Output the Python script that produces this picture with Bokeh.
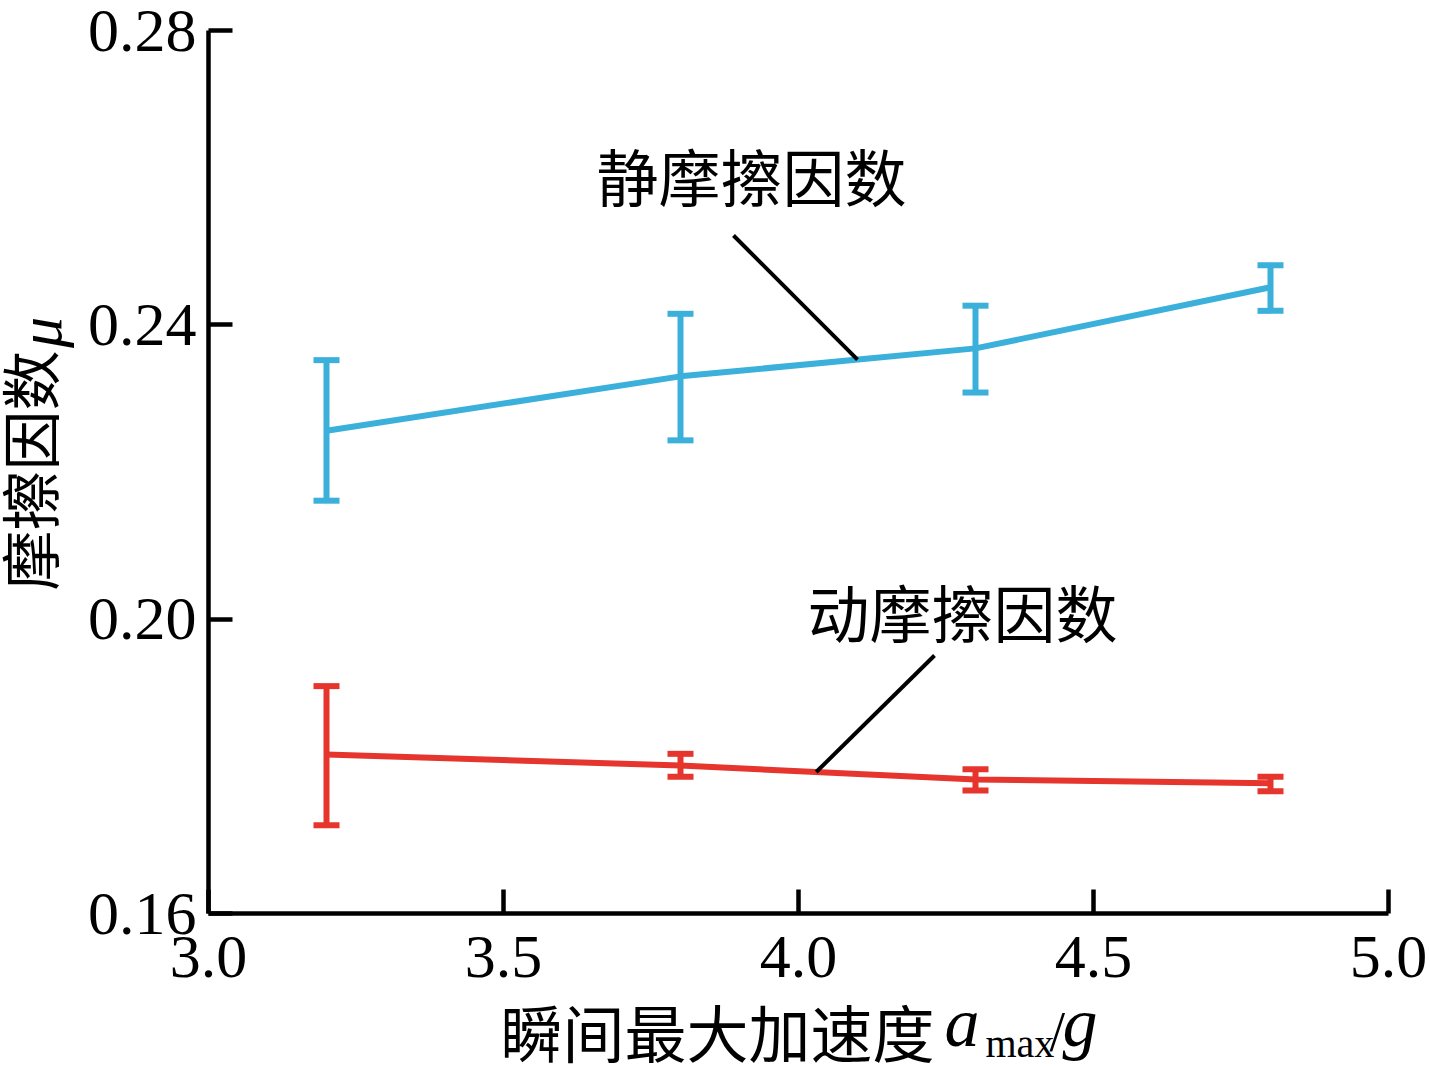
import numpy as np
from bokeh.plotting import figure
from bokeh.layouts import row, column
from bokeh.models import (Whisker, TeeHead, ColumnDataSource, Label, Range1d,
                          FixedTicker, NumeralTickFormatter)
from bokeh.core.properties import value
from bokeh.embed import file_html
from bokeh.resources import INLINE

# ---------------- data ----------------
accel = [3.2, 3.8, 4.3, 4.8]
static_mu = [0.2256, 0.2330, 0.2368, 0.2451]
static_upper = [0.2352, 0.2415, 0.2426, 0.2481]
static_lower = [0.2161, 0.2243, 0.2308, 0.2419]
dynamic_mu = [0.1816, 0.1801, 0.1782, 0.1777]
dynamic_upper = [0.1909, 0.1817, 0.1796, 0.1786]
dynamic_lower = [0.1720, 0.1786, 0.1767, 0.1766]
x_ticks = [3.0, 3.5, 4.0, 4.5, 5.0]
y_ticks = [0.16, 0.20, 0.24, 0.28]
static_name = "静摩擦因数"
dynamic_name = "动摩擦因数"
x_label_cn = "瞬间最大加速度"
y_label_cn = "摩擦因数"

BLUE = "#3BB0DA"
RED = "#E5352D"
CJK = "Noto Sans CJK SC"
SERIF = "Liberation Serif"

X0, X1 = 3.0, 5.0
Y0, Y1 = 0.16, 0.28
FL, FT, FW, FH = 208, 30, 1180, 883   # plot frame in page pixels
YLAB_W = 75                            # width of the y-label strip
TOTAL_H = 1066
XL_TOP = 1000                          # top of the x-label strip
MAIN_H = XL_TOP


def px(xp):
    return X0 + (xp - FL) / FW * (X1 - X0)


def py(yp):
    return Y1 - (yp - FT) / FH * (Y1 - Y0)


# ---------------- main plot ----------------
p = figure(frame_width=FW, frame_height=FH, x_range=Range1d(X0, X1),
           y_range=Range1d(Y0, Y1), output_backend="svg", toolbar_location=None,
           min_border_left=FL - YLAB_W, min_border_right=42, min_border_top=FT,
           min_border_bottom=MAIN_H - FT - FH)
p.outline_line_color = None
p.grid.visible = False
p.background_fill_color = "white"
p.border_fill_color = "white"

for ax in (p.xaxis[0], p.yaxis[0]):
    ax.axis_line_width = 4.5
    ax.axis_line_color = "black"
    ax.major_tick_line_width = 4.5
    ax.major_tick_line_color = "black"
    ax.major_tick_in = 24
    ax.major_tick_out = 0
    ax.minor_tick_line_color = None
    ax.major_label_text_font = SERIF
    ax.major_label_text_font_size = "62px"
    ax.major_label_text_color = "black"

p.xaxis.ticker = FixedTicker(ticks=x_ticks)
p.yaxis.ticker = FixedTicker(ticks=y_ticks)
p.xaxis.formatter = NumeralTickFormatter(format="0.0")
p.yaxis.formatter = NumeralTickFormatter(format="0.00")
p.xaxis.major_label_standoff = 23
p.yaxis.major_label_standoff = 12

p.line(accel, static_mu, line_color=BLUE, line_width=6)
p.line(accel, dynamic_mu, line_color=RED, line_width=6)

for up, lo, col in ((static_upper, static_lower, BLUE),
                    (dynamic_upper, dynamic_lower, RED)):
    src = ColumnDataSource(dict(x=accel, upper=up, lower=lo))
    p.add_layout(Whisker(base="x", upper="upper", lower="lower", source=src,
                         dimension="height", line_color=col, line_width=6,
                         upper_head=TeeHead(size=26, line_color=col, line_width=6),
                         lower_head=TeeHead(size=26, line_color=col, line_width=6)))

# leader lines from the names to the curves
sx_end = 4.1
sy_end = float(np.interp(sx_end, accel, static_mu))
p.segment(x0=[px(733)], y0=[py(235)], x1=[sx_end], y1=[sy_end],
          line_color="black", line_width=4)
dx_end = 4.03
dy_end = float(np.interp(dx_end, accel, dynamic_mu))
p.segment(x0=[px(934)], y0=[py(655)], x1=[dx_end], y1=[dy_end],
          line_color="black", line_width=4)

p.add_layout(Label(x=px(751), y=py(174), text=static_name, text_align="center",
                   text_baseline="middle", text_font=CJK, text_font_size="62px",
                   text_color="black"))
p.add_layout(Label(x=px(962), y=py(610), text=dynamic_name, text_align="center",
                   text_baseline="middle", text_font=CJK, text_font_size="62px",
                   text_color="black"))

# ---------------- y-axis label strip ----------------
yl = figure(width=YLAB_W, height=TOTAL_H, x_range=Range1d(0, YLAB_W),
            y_range=Range1d(0, TOTAL_H), output_backend="svg", toolbar_location=None,
            x_axis_type=None, y_axis_type=None, min_border=0)
yl.outline_line_color = None
yl.grid.visible = False
yl.text(x=[27], y=[TOTAL_H - 470], text=[y_label_cn], angle=np.pi / 2,
        text_align="center", text_baseline="middle", text_font=value(CJK),
        text_font_size="60px", text_color="black")
yl.text(x=[39], y=[TOTAL_H - 332], text=["μ"], angle=np.pi / 2,
        text_align="center", text_baseline="middle", text_font=value(SERIF),
        text_font_style=value("italic"), text_font_size="62px", text_color="black")

# ---------------- x-axis label strip ----------------
# in a column Bokeh lines this strip's frame up with the main frame (page x 208..1388)
xl_h = TOTAL_H - XL_TOP
xl = figure(width=1430 - YLAB_W, height=xl_h, x_range=Range1d(FL, FL + FW),
            y_range=Range1d(0, xl_h), output_backend="svg", toolbar_location=None,
            x_axis_type=None, y_axis_type=None, min_border=0)
xl.outline_line_color = None
xl.grid.visible = False


def yy(page_y):
    return TOTAL_H - page_y


def serif_piece(txt, left, baseline, size, italic):
    # "middle" anchor sits about 0.34 em above the baseline for Liberation Serif
    mid = baseline - 1 - 0.34 * size
    xl.text(x=[left], y=[yy(mid)], text=[txt], text_align="left",
            text_baseline="middle", text_font=value(SERIF),
            text_font_style=value("italic" if italic else "normal"),
            text_font_size=f"{size}px", text_color="black")


xl.text(x=[717], y=[yy(1030)], text=[x_label_cn], text_align="center",
        text_baseline="middle", text_font=value(CJK), text_font_size="62px",
        text_color="black")
serif_piece("a", 944, 1047, 70, True)
serif_piece("max", 985, 1058, 40, False)
serif_piece("/", 1049, 1052, 56, False)
serif_piece("g", 1062, 1047, 70, True)

layout = row(yl, column(p, xl))
open("out.html", "w").write(file_html(layout, INLINE))
